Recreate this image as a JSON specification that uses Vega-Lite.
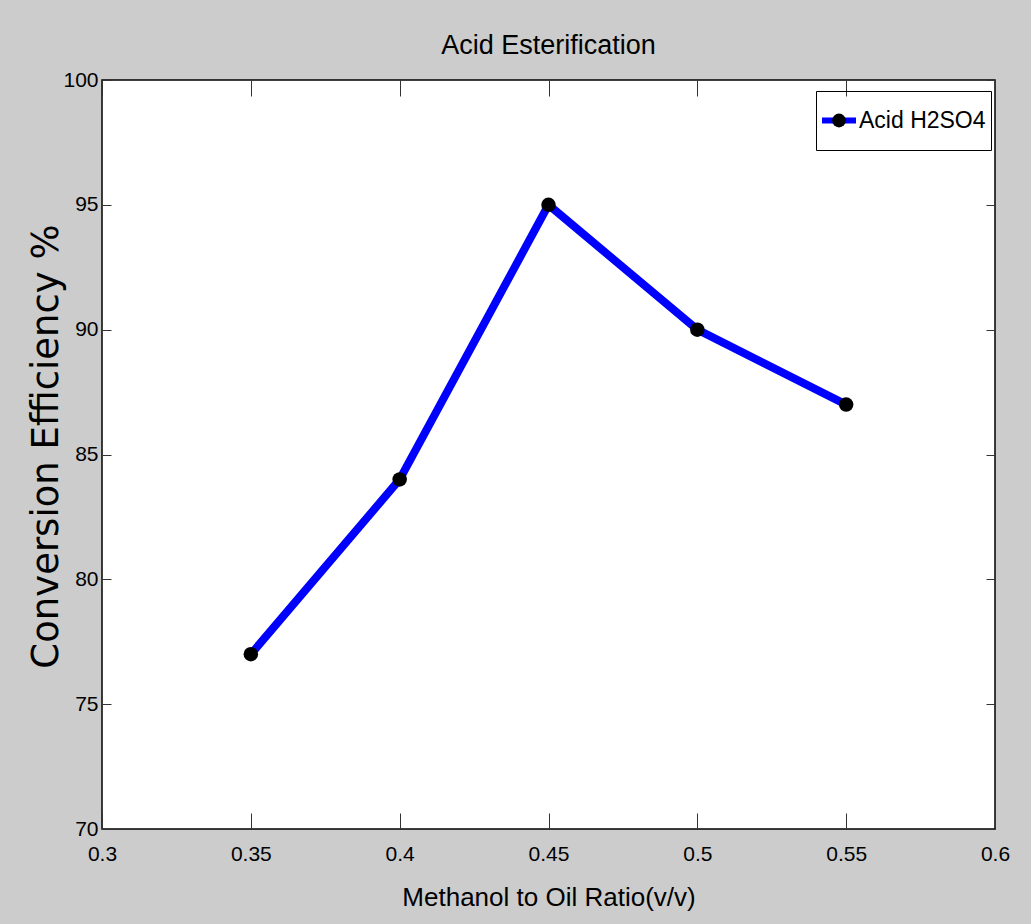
{
  "$schema": "https://vega.github.io/schema/vega-lite/v6.json",
  "width": 893,
  "height": 749,
  "autosize": {"type": "none"},
  "padding": {"left": 102, "top": 80, "right": 36, "bottom": 95},
  "background": "#cccccc",
  "title": {
    "text": "Acid Esterification",
    "font": "Liberation Sans",
    "fontSize": 27,
    "fontWeight": "normal",
    "color": "black",
    "baseline": "alphabetic",
    "offset": -12,
    "anchor": "middle"
  },
  "config": {
    "view": {"stroke": "black", "strokeWidth": 1.5, "fill": "white"},
    "axis": {
      "domain": false,
      "grid": false,
      "tickColor": "#333333",
      "tickWidth": 1,
      "labelFont": "Liberation Sans",
      "labelFontSize": 21,
      "labelColor": "black",
      "titleColor": "black",
      "titleFontWeight": "normal"
    }
  },
  "data": {
    "values": [
      {"ratio": 0.35, "eff": 77, "series": "Acid H2SO4", "marker": "m"},
      {"ratio": 0.40, "eff": 84, "series": "Acid H2SO4", "marker": "m"},
      {"ratio": 0.45, "eff": 95, "series": "Acid H2SO4", "marker": "m"},
      {"ratio": 0.50, "eff": 90, "series": "Acid H2SO4", "marker": "m"},
      {"ratio": 0.55, "eff": 87, "series": "Acid H2SO4", "marker": "m"}
    ]
  },
  "layer": [
    {
      "mark": {"type": "line", "strokeWidth": 8},
      "encoding": {
        "x": {
          "field": "ratio", "type": "quantitative",
          "scale": {"domain": [0.3, 0.6], "nice": false, "zero": false},
          "axis": {
            "orient": "bottom",
            "values": [0.3, 0.35, 0.4, 0.45, 0.5, 0.55, 0.6],
            "format": "~g",
            "tickSize": -16,
            "labelPadding": 30,
            "labelFlush": false,
            "labelOverlap": false,
            "title": "Methanol to Oil Ratio(v/v)",
            "titleFont": "Liberation Sans",
            "titleFontSize": 26,
            "titleBaseline": "alphabetic",
            "titleY": 76
          }
        },
        "y": {
          "field": "eff", "type": "quantitative",
          "scale": {"domain": [70, 100], "nice": false, "zero": false},
          "axis": {
            "orient": "left",
            "values": [70, 75, 80, 85, 90, 95, 100],
            "tickSize": -9,
            "labelPadding": 13,
            "labelFlush": false,
            "labelOverlap": false,
            "title": "Conversion Efficiency %",
            "titleFont": "DejaVu Sans",
            "titleFontSize": 37,
            "titleAngle": 270,
            "titleBaseline": "alphabetic",
            "titleX": -45,
            "titleY": 366
          }
        },
        "stroke": {
          "field": "series", "type": "nominal",
          "scale": {"range": ["#0000ff"]},
          "legend": {
            "orient": "none",
            "legendX": 717,
            "legendY": 20.5,
            "title": null,
            "symbolType": "stroke",
            "symbolSize": 1156,
            "symbolStrokeWidth": 6,
            "symbolOffset": 0,
            "labelFont": "Liberation Sans",
            "labelFontSize": 23,
            "labelColor": "black",
            "labelOffset": 0,
            "labelLimit": 300,
            "strokeColor": "transparent",
            "fillColor": "transparent",
            "padding": 0
          }
        }
      }
    },
    {
      "mark": {"type": "circle", "size": 210, "opacity": 1},
      "encoding": {
        "x": {"field": "ratio", "type": "quantitative", "axis": null},
        "y": {"field": "eff", "type": "quantitative", "axis": null},
        "fill": {
          "field": "marker", "type": "nominal",
          "scale": {"range": ["black"]},
          "legend": {
            "orient": "none",
            "legendX": 714,
            "legendY": 11,
            "title": null,
            "symbolType": "circle",
            "symbolSize": 190,
            "symbolStrokeWidth": 0,
            "symbolOpacity": 1,
            "symbolOffset": -6.5,
            "labelExpr": "''",
            "labelFontSize": 47,
            "labelOffset": 122,
            "strokeColor": "black",
            "fillColor": "transparent",
            "padding": 6
          }
        }
      }
    },
    {
      "mark": {"type": "line", "opacity": 0},
      "encoding": {
        "x": {
          "field": "ratio", "type": "quantitative",
          "axis": {
            "orient": "top",
            "values": [0.3, 0.35, 0.4, 0.45, 0.5, 0.55, 0.6],
            "tickSize": -16,
            "labels": false,
            "title": null
          }
        },
        "y": {
          "field": "eff", "type": "quantitative",
          "axis": {
            "orient": "right",
            "values": [70, 75, 80, 85, 90, 95, 100],
            "tickSize": -9,
            "labels": false,
            "title": null
          }
        }
      }
    }
  ],
  "resolve": {"axis": {"x": "independent", "y": "independent"}}
}
